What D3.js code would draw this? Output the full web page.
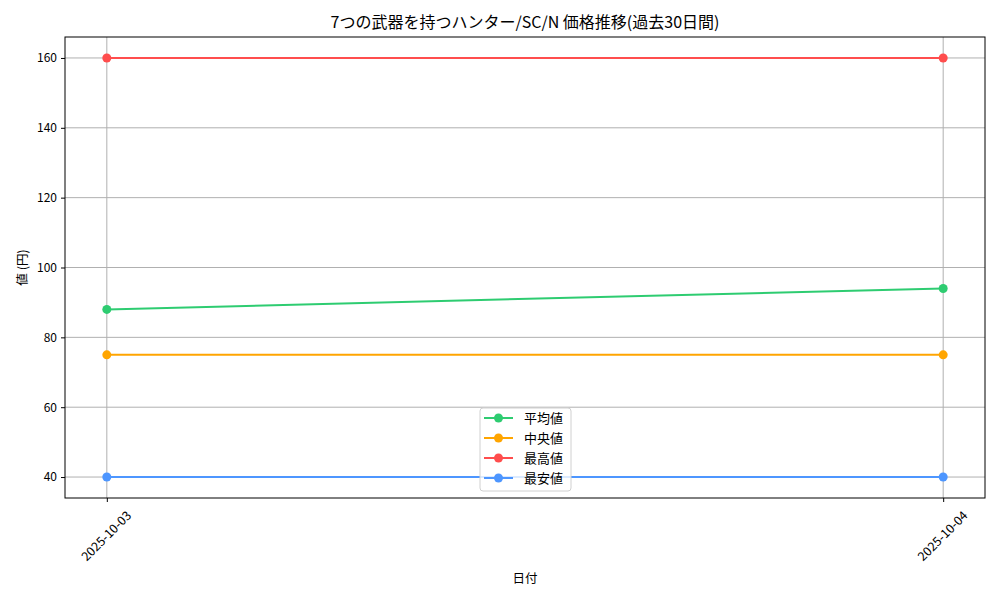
<!DOCTYPE html>
<html>
<head>
<meta charset="utf-8">
<script src="https://cdn.jsdelivr.net/npm/d3@7"></script>
<style>
  body { margin: 0; background: #fff; }
  svg text { font-family: "Noto Sans CJK JP", "Noto Sans", sans-serif; }
</style>
</head>
<body>
<div id="chart"></div>
<script>
// data
var dates = ["2025-10-03", "2025-10-04"];
var avgValues = [88, 94];
var medianValues = [75, 75];
var maxValues = [160, 160];
var minValues = [40, 40];
var yTicks = [40, 60, 80, 100, 120, 140, 160];

var seriesNames = ["平均値", "中央値", "最高値", "最安値"];
var seriesColors = ["#2ecc71", "#ffa500", "#ff4d4d", "#4d96ff"];

function base() {
    var w = 1000, h = 600;
    var left = 65, right = 985, top = 37, bottom = 498;

    var series = [avgValues, medianValues, maxValues, minValues].map(function(vals, i) {
        return {
            name: seriesNames[i],
            color: seriesColors[i],
            values: vals.map(function(v, j) { return { x: j, y: v }; })
        };
    });

    // matplotlib style 5% margins
    var xScale = d3.scaleLinear()
        .domain([-0.05, dates.length - 1 + 0.05])
        .range([left, right]);

    var allVals = avgValues.concat(medianValues, maxValues, minValues);
    var ymin = d3.min(allVals), ymax = d3.max(allVals);
    var pad = (ymax - ymin) * 0.05;
    var yScale = d3.scaleLinear()
        .domain([ymin - pad, ymax + pad])
        .range([bottom, top]);

    var svg = d3.select("#chart")
        .append("svg")
        .attr("width", w)
        .attr("height", h);

    // grid
    var grid = svg.append("g");
    grid.selectAll("line.gy")
        .data(yTicks)
        .enter()
        .append("line")
        .attr("x1", left).attr("x2", right)
        .attr("y1", function(d) { return yScale(d); })
        .attr("y2", function(d) { return yScale(d); })
        .attr("stroke", "#b0b0b0").attr("stroke-width", 1);
    grid.selectAll("line.gx")
        .data(d3.range(dates.length))
        .enter()
        .append("line")
        .attr("y1", top).attr("y2", bottom)
        .attr("x1", function(d) { return xScale(d); })
        .attr("x2", function(d) { return xScale(d); })
        .attr("stroke", "#b0b0b0").attr("stroke-width", 1);

    // axes
    var yAxis = d3.axisLeft(yScale)
        .tickValues(yTicks)
        .tickSize(4)
        .tickPadding(4);
    var gy = svg.append("g")
        .attr("transform", "translate(" + left + ",0)")
        .call(yAxis);
    gy.select(".domain").remove();
    gy.selectAll("text").style("font-size", "12px").attr("fill", "#000");

    var xAxis = d3.axisBottom(xScale)
        .tickValues(d3.range(dates.length))
        .tickFormat(function(i) { return dates[i]; })
        .tickSize(4);
    var gx = svg.append("g")
        .attr("transform", "translate(0," + bottom + ")")
        .call(xAxis);
    gx.select(".domain").remove();
    gx.selectAll("text")
        .style("font-size", "12.5px")
        .attr("fill", "#000")
        .attr("text-anchor", "middle")
        .attr("dy", "0.35em")
        .attr("transform", "translate(-1,38) rotate(-45)")
        .attr("y", 0).attr("x", 0);

    // lines
    var line = d3.line()
        .x(function(d) { return xScale(d.x); })
        .y(function(d) { return yScale(d.y); });

    var groups = svg.selectAll("g.series")
        .data(series)
        .enter()
        .append("g")
        .attr("class", "series");

    groups.append("path")
        .attr("d", function(d) { return line(d.values); })
        .attr("fill", "none")
        .attr("stroke", function(d) { return d.color; })
        .attr("stroke-width", 2);

    groups.selectAll("circle")
        .data(function(d) { return d.values.map(function(v) { return { v: v, c: d.color }; }); })
        .enter()
        .append("circle")
        .attr("cx", function(d) { return xScale(d.v.x); })
        .attr("cy", function(d) { return yScale(d.v.y); })
        .attr("r", 4.5)
        .attr("fill", function(d) { return d.c; });

    // frame
    svg.append("rect")
        .attr("x", left).attr("y", top)
        .attr("width", right - left).attr("height", bottom - top)
        .attr("fill", "none").attr("stroke", "#000").attr("stroke-width", 1);

    // title and labels
    svg.append("text")
        .attr("x", (left + right) / 2).attr("y", 28)
        .attr("text-anchor", "middle")
        .style("font-size", "16px")
        .text("7つの武器を持つハンター/SC/N 価格推移(過去30日間)");

    svg.append("text")
        .attr("x", (left + right) / 2).attr("y", 583)
        .attr("text-anchor", "middle")
        .style("font-size", "12.5px")
        .text("日付");

    svg.append("text")
        .attr("transform", "translate(27," + ((top + bottom) / 2) + ") rotate(-90)")
        .attr("text-anchor", "middle")
        .style("font-size", "12.5px")
        .text("値 (円)");

    // legend
    var lg = svg.append("g").attr("transform", "translate(480,408)");
    lg.append("rect")
        .attr("width", 91).attr("height", 83)
        .attr("rx", 3)
        .attr("fill", "#fff").attr("fill-opacity", 0.8)
        .attr("stroke", "#d0d0d0");
    var items = lg.selectAll("g.item")
        .data(series)
        .enter()
        .append("g")
        .attr("transform", function(d, i) { return "translate(0," + (10 + i * 20) + ")"; });
    items.append("line")
        .attr("x1", 4).attr("x2", 33)
        .attr("stroke", function(d) { return d.color; })
        .attr("stroke-width", 2);
    items.append("circle")
        .attr("cx", 18.5).attr("r", 4.5)
        .attr("fill", function(d) { return d.color; });
    items.append("text")
        .attr("x", 44).attr("dy", "0.35em")
        .style("font-size", "13px")
        .text(function(d) { return d.name; });
}

window.onload = base;
</script>
</body>
</html>
